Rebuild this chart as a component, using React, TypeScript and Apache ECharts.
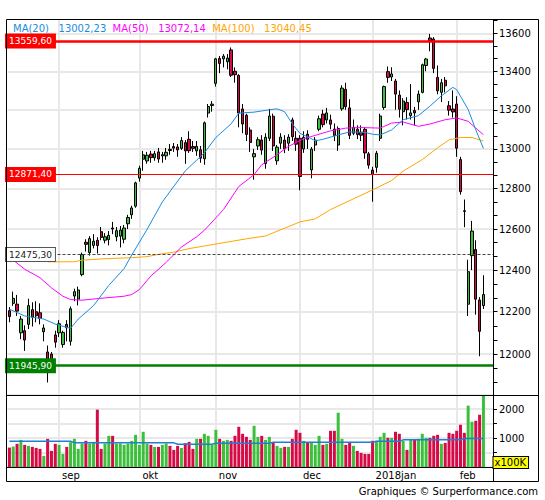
import React, { useEffect, useRef } from "react";
import * as echarts from "echarts";

// ---------- DATA ----------
const dates = [
  "08-15","08-16","08-17","08-18","08-21","08-22","08-23","08-24","08-25","08-28","08-29","08-30","08-31",
  "09-01","09-04","09-05","09-06","09-07","09-08","09-11","09-12","09-13","09-14","09-15","09-18","09-19","09-20","09-21","09-22","09-25","09-26","09-27","09-28","09-29",
  "10-02","10-04","10-05","10-06","10-09","10-10","10-11","10-12","10-13","10-16","10-17","10-18","10-19","10-20","10-23","10-24","10-25","10-26","10-27","10-30",
  "11-01","11-02","11-03","11-06","11-07","11-08","11-09","11-10","11-13","11-14","11-15","11-16","11-17","11-20","11-21","11-22","11-23","11-24","11-27","11-28","11-29","11-30",
  "12-01","12-04","12-05","12-06","12-07","12-08","12-11","12-12","12-13","12-14","12-15","12-18","12-19","12-20","12-21","12-22","12-27","12-28","12-29",
  "01-02","01-03","01-04","01-05","01-08","01-09","01-10","01-11","01-12","01-15","01-16","01-17","01-18","01-19","01-22","01-23","01-24","01-25","01-26","01-29","01-30","01-31",
  "02-01","02-02","02-05","02-06","02-07","02-08","02-09","02-12"
];
const padCategories = ["02-13", "02-14"];

const opens = [
  12205,12240,12236,12100,12110,12140,12210,12200,12195,12105,12010,12000,12090,
  12100,12045,12140,12060,12275,12260,12378,12535,12485,12520,12545,12587,12545,12548,12605,12562,12565,12550,12626,12670,12713,
  12853,12948,12939,12974,12955,12985,12965,12965,12998,13012,13010,13003,13032,13049,13012,12990,12996,12950,13183,13222,
  13337,13467,13465,13450,13512,13400,13378,13204,13172,13096,12960,13015,13045,12926,13054,13167,12940,13029,13045,13029,13148,13054,
  13054,13000,13075,12894,13020,13100,13178,13148,13148,13101,13020,13205,13306,13210,13080,13100,13085,13100,12975,
  12893,12907,13054,13212,13398,13370,13349,13276,13190,13238,13170,13196,13241,13290,13430,13575,13570,13368,13290,13353,13221,13204,
  13229,12946,12690,12236,12470,12500,12256,12229
];
const highs = [
  12222,12296,12280,12180,12135,12262,12245,12250,12240,12140,12040,12010,12110,
  12160,12110,12160,12225,12310,12320,12485,12550,12565,12575,12560,12610,12580,12590,12635,12610,12615,12620,12670,12715,12835,
  12915,12990,12985,12990,12990,13005,12985,13005,13025,13030,13025,13060,13045,13090,13040,13040,13015,13140,13230,13245,
  13470,13480,13490,13490,13525,13420,13385,13230,13180,13110,13000,13060,13070,13080,13205,13180,13020,13080,13070,13075,13160,13090,
  13070,13090,13095,13010,13060,13170,13200,13210,13175,13130,13115,13327,13340,13255,13150,13120,13120,13110,12985,
  12910,12990,13180,13325,13425,13421,13360,13300,13260,13265,13333,13215,13300,13440,13470,13597,13580,13430,13360,13370,13245,13300,
  13270,12960,12746,12450,12640,12545,12270,12375
];
const lows = [
  12150,12228,12180,12070,12015,12118,12130,12150,12140,12060,11868,11940,12030,
  12080,12030,12060,12040,12250,12230,12370,12490,12470,12505,12480,12545,12530,12520,12575,12540,12510,12530,12600,12650,12705,
  12835,12890,12925,12930,12940,12930,12930,12945,12970,12985,12960,12995,12925,12980,12985,12965,12930,12920,13160,13190,
  13320,13390,13420,13410,13370,13340,13110,13080,13040,12985,12845,12995,12970,12900,13040,12990,12920,13000,12979,12990,13040,12990,
  12792,12980,13000,12852,12990,13090,13110,13130,13100,13040,12990,13195,13200,13050,13070,13050,13040,12950,12900,
  12735,12880,13040,13200,13340,13349,13200,13160,13120,13150,13150,13120,13200,13285,13400,13505,13390,13280,13240,13290,13170,13160,
  12960,12770,12609,12180,12400,12186,11990,12213
];
const closes = [
  12177,12264,12203,12165,12066,12229,12174,12181,12168,12123,11946,11972,12056,
  12143,12102,12124,12214,12296,12304,12475,12525,12553,12540,12519,12559,12562,12569,12600,12592,12595,12605,12657,12704,12829,
  12902,12970,12968,12956,12976,12949,12971,12983,12992,13004,12995,13043,12990,12991,13003,13013,12953,13133,13217,13229,
  13465,13441,13479,13469,13379,13382,13183,13127,13074,13033,12976,13047,12994,13059,13168,13015,13009,13060,13000,13060,13062,13024,
  12861,13059,13049,12999,13045,13154,13124,13184,13126,13068,13104,13312,13216,13069,13110,13073,13070,12980,12918,
  12871.4,12978,13168,13320,13368,13386,13281,13203,13245,13201,13184,13184,13281,13434,13464,13559.6,13415,13298,13340,13324,13198,13189,
  13004,12785,12687,12392,12590,12260,12107,12282
];
const volumes = [
  670,705,800,935,763,728,694,659,624,381,971,555,798,
  763,451,694,855,971,624,809,902,809,867,1977,624,809,1075,1075,809,809,763,809,902,1110,
  763,1214,809,763,694,694,763,809,728,590,728,659,821,867,624,971,971,1145,1075,763,
  1283,971,902,936,902,1075,1387,1145,1040,936,1422,1040,1075,936,1040,832,728,659,694,694,971,1283,
  1179,902,832,867,763,1075,763,798,1249,1249,1873,971,763,832,728,555,486,451,451,
  902,902,1040,1179,1006,1006,1214,1145,902,590,936,936,971,1145,1006,1006,1075,1110,798,832,1179,1145,
  1249,1457,1179,2116,1561,1595,1803,2600
];

const ma20 = [
  [0,12212],[4,12180],[9,12165],[12,12141],[16,12121],[18,12165],[22,12229],[26,12326],[30,12407],[32,12473],
  [36,12598],[40,12734],[46,12889],[51,12980],[54,13058],[58,13128],[60,13183],[64,13188],[68,13200],[70,13205],
  [72,13190],[74,13128],[76,13079],[78,13062],[80,13041],[82,13049],[86,13071],[89,13087],[93,13084],[95,13075],
  [97,13071],[100,13097],[103,13149],[107,13170],[110,13219],[113,13272],[116,13316],[117,13304],[120,13202],
  [122,13097],[124,13002.23]
];
const ma50 = [
  [1,12448],[4,12404],[8,12363],[11,12314],[14,12274],[16,12258],[19,12255],[25,12266],[30,12274],[32,12282],
  [34,12306],[37,12371],[41,12437],[45,12512],[49,12562],[51,12594],[56,12696],[60,12811],[64,12870],[66,12920],
  [70,12970],[73,13013],[77,13052],[80,13069],[84,13092],[88,13106],[92,13109],[97,13106],[100,13132],[103,13137],
  [107,13115],[110,13127],[114,13149],[117,13158],[120,13141],[122,13106],[124,13072.14]
];
const ma100 = [
  [10,12440],[17,12440],[19,12448],[25,12455],[32,12460],[36,12465],[39,12476],[43,12487],[47,12504],[51,12517],
  [62,12552],[67,12566],[76,12635],[80,12650],[84,12696],[95,12794],[100,12841],[103,12888],[108,12946],[112,13006],
  [115,13046],[118,13058],[121,13058],[124,13040.45]
];
const volMa = [
  [0,890],[16,890],[17,832],[43,832],[44,786],[53,786],[54,821],[68,821],[69,855],[95,855],
  [96,890],[102,890],[103,936],[118,936],[119,983],[124,983]
];

const monthLabels = ["sep", "okt", "nov", "dec", "2018jan", "feb"];
const priceTicks = [12000, 12200, 12400, 12600, 12800, 13000, 13200, 13400, 13600];
const refLevels = [13559.6, 12871.4, 12475.3, 11945.9];

// ---------- STYLE ----------
const FONT = "DejaVu Sans";
const UP = "#3cc03c";
const DOWN = "#d60a46";
const GRIDC = "#e8e8e8";
const refStyles = [
  { line: "#ff0000", width: 2.5, type: "solid", box: "#ff0000", border: "#ff0000", text: "#ffffff" },
  { line: "#ff0000", width: 1.2, type: "solid", box: "#ff0000", border: "#ff0000", text: "#ffffff" },
  { line: "#444444", width: 1, type: [3, 2], box: "#ffffff", border: "#555555", text: "#222222" },
  { line: "#008000", width: 2.5, type: "solid", box: "#008000", border: "#008000", text: "#ffffff" },
];

const fmt = (v: number) => v.toFixed(2).replace(".", ",");

export default function App() {
  const ref = useRef<HTMLDivElement>(null);
  useEffect(() => {
    const chart = echarts.init(ref.current!, null, { renderer: "svg" });
    const cats = [...dates, ...padCategories];
    const monthStarts: number[] = [];
    dates.forEach((d, i) => {
      if (i > 0 && d.slice(0, 2) !== dates[i - 1].slice(0, 2)) monthStarts.push(i);
    });
    const candleData = dates.map((_, i) => [opens[i], closes[i], lows[i], highs[i]]);
    const volData = volumes.map((v, i) => ({
      value: v,
      itemStyle: { color: closes[i] >= opens[i] ? UP : DOWN },
    }));
    const step = (priceTicks[1] - priceTicks[0]) / 3;
    const allTicks: number[] = [];
    for (let n = -2; n <= 25; n++) allTicks.push(priceTicks[0] + n * step);

    const gridLineStyle = { color: GRIDC, width: 2, type: "solid" };
    const last = (a: number[][]) => a[a.length - 1][1];

    const option: any = {
      animation: false,
      backgroundColor: "#ffffff",
      grid: [
        { left: 7.5, right: 52, top: 19, height: 376 },
        { left: 7.5, right: 52, top: 395, height: 72 },
      ],
      xAxis: [
        { type: "category", gridIndex: 0, data: cats, boundaryGap: true, show: false },
        {
          type: "category", gridIndex: 1, data: cats, boundaryGap: true,
          axisLine: { show: false }, axisTick: { show: false }, splitLine: { show: false },
          axisLabel: {
            show: true,
            interval: (i: number) => monthStarts.includes(i),
            formatter: (_v: string, i: number) => monthLabels[monthStarts.indexOf(i)] ?? "",
            align: "left", margin: 3, padding: [0, 0, 0, 3],
            fontSize: 10, fontFamily: FONT, color: "#000",
          },
        },
      ],
      yAxis: [
        {
          type: "log", gridIndex: 0, position: "right", min: 11810, max: 13676,
          axisLine: { show: false }, axisTick: { show: false }, axisLabel: { show: false }, splitLine: { show: false },
        },
        {
          type: "value", gridIndex: 1, position: "right", min: 0, max: 2483, interval: 500,
          axisLine: { show: false },
          axisTick: { show: true, inside: false, length: 4, lineStyle: { color: "#000" } },
          axisLabel: {
            formatter: (v: number) => (v === 1000 || v === 2000 ? String(v) : ""),
            fontSize: 10, fontFamily: FONT, color: "#000", margin: 6,
          },
          splitLine: { show: true, lineStyle: { color: GRIDC, width: 2 } },
        },
      ],
      series: [
        {
          type: "line", xAxisIndex: 0, yAxisIndex: 0, data: [], silent: true,
          markLine: {
            silent: true, symbol: "none", z: 1,
            data: [
              ...priceTicks.map((v) => ({
                yAxis: v, lineStyle: gridLineStyle,
                label: { show: true, position: "end", distance: 6, formatter: String(v), color: "#000", fontSize: 10, fontFamily: FONT },
              })),
              ...monthStarts.map((i) => ({ xAxis: i, lineStyle: gridLineStyle, label: { show: false } })),
              ...allTicks.map((v) => [
                { x: 493.5, yAxis: v, lineStyle: { color: "#000", width: 1, type: "solid" }, label: { show: false } },
                { x: 497.5, yAxis: v },
              ]),
            ],
          },
        },
        {
          type: "candlestick", xAxisIndex: 0, yAxisIndex: 0, data: candleData, barWidth: 2.8,
          itemStyle: { color: UP, color0: DOWN, borderColor: "#000", borderColor0: "#000", borderWidth: 1 },
          markLine: {
            silent: true, symbol: "none", z: 5,
            data: refLevels.map((v, i) => ({
              yAxis: v,
              lineStyle: { color: refStyles[i].line, width: refStyles[i].width, type: refStyles[i].type },
              label: {
                show: true, position: "insideStart", distance: [-1.5, 0], formatter: fmt(v),
                color: refStyles[i].text, backgroundColor: refStyles[i].box,
                borderColor: refStyles[i].border, borderWidth: 1,
                padding: [2, 3, 1, 3], fontSize: 9, lineHeight: 10, fontFamily: FONT,
              },
            })),
          },
        },
        { type: "line", xAxisIndex: 0, yAxisIndex: 0, data: ma100, showSymbol: false, symbol: "none", lineStyle: { color: "#ffa500", width: 1 } },
        { type: "line", xAxisIndex: 0, yAxisIndex: 0, data: ma50, showSymbol: false, symbol: "none", lineStyle: { color: "#ff00ff", width: 1 } },
        { type: "line", xAxisIndex: 0, yAxisIndex: 0, data: ma20, showSymbol: false, symbol: "none", lineStyle: { color: "#1a8ce0", width: 1 } },
        { type: "bar", xAxisIndex: 1, yAxisIndex: 1, data: volData, barWidth: 3 },
        {
          type: "line", xAxisIndex: 1, yAxisIndex: 1, data: volMa, showSymbol: false, symbol: "none",
          lineStyle: { color: "#1e7fd4", width: 1.5 }, z: 3,
          markLine: {
            silent: true, symbol: "none", z: 1,
            data: monthStarts.map((i) => ({ xAxis: i, lineStyle: gridLineStyle, label: { show: false } })),
          },
        },
      ],
      graphic: [
        { type: "rect", z: 100, silent: true, shape: { x: 6.5, y: 19.5, width: 532, height: 462 }, style: { fill: "none", stroke: "#000", lineWidth: 1 } },
        { type: "line", z: 100, silent: true, shape: { x1: 6.5, y1: 395.5, x2: 538.5, y2: 395.5 }, style: { stroke: "#000", lineWidth: 1 } },
        { type: "line", z: 100, silent: true, shape: { x1: 6.5, y1: 467.5, x2: 493.5, y2: 467.5 }, style: { stroke: "#000", lineWidth: 1 } },
        { type: "line", z: 100, silent: true, shape: { x1: 493.5, y1: 19.5, x2: 493.5, y2: 481.5 }, style: { stroke: "#000", lineWidth: 1 } },
        {
          type: "text", z: 100, left: 13, top: 22,
          style: {
            text: `{a|MA(20)   ${fmt(last(ma20))}}  {b|MA(50)   ${fmt(last(ma50))}}  {c|MA(100)   ${fmt(last(ma100))}}`,
            font: `10px ${FONT}`, lineHeight: 12,
            rich: {
              a: { fill: "#1a8ce0", font: `10px ${FONT}` },
              b: { fill: "#ff00ff", font: `10px ${FONT}` },
              c: { fill: "#ffa500", font: `10px ${FONT}` },
            },
          },
        },
        {
          type: "text", z: 100, x: 493.5, y: 457,
          style: {
            text: "x100K", fill: "#000", font: `10px ${FONT}`, lineHeight: 11,
            backgroundColor: "#ffff00", borderColor: "#000", borderWidth: 1, padding: [0, 2, 0, 1],
          },
        },
        {
          type: "text", z: 100, right: 7, top: 485,
          style: { text: "Graphiques © Surperformance.com", fill: "#000", font: `10px ${FONT}`, lineHeight: 12 },
        },
      ],
    };
    chart.setOption(option);
    return () => chart.dispose();
  }, []);
  return (
    <div
      ref={ref}
      style={{ position: "absolute", left: 0, top: 0, width: 545, height: 500, background: "#fff" }}
    />
  );
}
